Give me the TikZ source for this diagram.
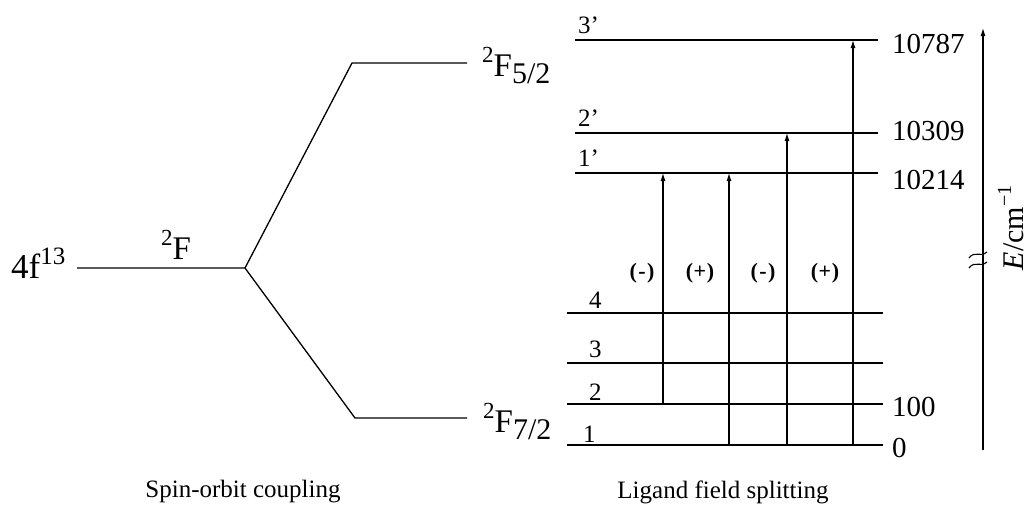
\documentclass[tikz,border=0pt]{standalone}
\usepackage{fontspec}
\setmainfont{Liberation Serif}
\usetikzlibrary{arrows.meta}
\newcommand\termsym[1]{\raisebox{0.4em}{\fontsize{23}{23}\selectfont 2}F\raisebox{-0.22em}{\fontsize{30}{30}\selectfont #1}}
\begin{document}
\begin{tikzpicture}[x=1pt,y=-1pt,
  lvl/.style={line width=1.3pt},
  tr/.style={line width=1.1pt,-{Latex[length=8pt,width=5pt]}},
  term/.style={font=\fontsize{33}{33}\selectfont, inner sep=0pt},
  num/.style={font=\fontsize{29}{29}\selectfont, anchor=west, inner sep=0pt},
  lab/.style={font=\fontsize{25}{25}\selectfont, inner sep=0pt, anchor=base west},
  sgn/.style={font=\fontsize{22}{22}\selectfont\bfseries, inner sep=0pt},
  captxt/.style={font=\fontsize{25}{25}\selectfont, inner sep=0pt}]
\useasboundingbox (0,0) rectangle (1031,514);
% spin-orbit part
\coordinate (F0) at (77,268);
\coordinate (Fs) at (245,268);
\coordinate (U1) at (352,63);
\coordinate (U2) at (467,63);
\coordinate (D1) at (355,418);
\coordinate (D2) at (467,418);
\draw[lvl] (F0) -- (Fs) -- (U1) -- (U2);
\draw[lvl] (Fs) -- (D1) -- (D2);
\node[term, anchor=base west, font=\fontsize{35}{35}\selectfont] (n4f) at (11,278) {4f\raisebox{0.38em}{\fontsize{25}{25}\selectfont 13}};
\node[term, anchor=base] (nF) at (176,259) {\raisebox{0.4em}{\fontsize{23}{23}\selectfont 2}F};
\node[term, anchor=base west] (nF52) at (482,76) {\termsym{5/2}};
\node[term, anchor=base west] (nF72) at (483,432) {\termsym{7/2}};
% ligand field levels
\foreach \n/\y in {3p/40,2p/133,1p/173}{
  \coordinate (L\n l) at (575,\y);
  \coordinate (L\n r) at (878,\y);
  \draw[lvl] (L\n l) -- (L\n r);
}
\foreach \n/\y in {4/313,3/363,2/404,1/445}{
  \coordinate (L\n l) at (567,\y);
  \coordinate (L\n r) at (883,\y);
  \draw[lvl] (L\n l) -- (L\n r);
}
\node[lab] (t3p) at (578,33) {3'};
\node[lab] (t2p) at (578,126) {2'};
\node[lab] (t1p) at (578,166) {1'};
\node[lab] (t4) at (589,308) {4};
\node[lab] (t3) at (589,357) {3};
\node[lab] (t2) at (589,400) {2};
\node[lab] (t1) at (583,442) {1};
% transitions
\coordinate (a1b) at (663,404); \coordinate (a1t) at (663,173);
\coordinate (a2b) at (729,445); \coordinate (a2t) at (729,173);
\coordinate (a3b) at (787,445); \coordinate (a3t) at (787,133);
\coordinate (a4b) at (853,445); \coordinate (a4t) at (853,40);
\draw[tr] (a1b) -- (a1t);
\draw[tr] (a2b) -- (a2t);
\draw[tr] (a3b) -- (a3t);
\draw[tr] (a4b) -- (a4t);
\node[sgn] (s1) at (642,273) {(\kern1.5pt-\kern1.5pt)};
\node[sgn] (s2) at (700,273) {(\kern0.5pt+\kern0.5pt)};
\node[sgn] (s3) at (763,273) {(\kern1.5pt-\kern1.5pt)};
\node[sgn] (s4) at (825,273) {(\kern0.5pt+\kern0.5pt)};
% energies
\node[num] (e1) at (892,44) {10787};
\node[num] (e2) at (892,131) {10309};
\node[num] (e3) at (892,180) {10214};
\node[num] (e4) at (892,407) {100};
\node[num] (e5) at (892,448) {0};
% axis
\coordinate (ax0) at (983,450);
\coordinate (ax1) at (983,28);
\draw[tr] (ax0) -- (ax1);
\draw[line width=1.1pt] (969,258) .. controls (975,250) and (980,258) .. (987,252);
\draw[line width=1.1pt] (969,268) .. controls (975,260) and (980,268) .. (987,262);
\node[rotate=90, font=\fontsize{30}{30}\selectfont, inner sep=0pt] (ax) at (1011,228) {\textit{E}/cm\raisebox{0.42em}{\fontsize{20}{20}\selectfont −1}};
% captions
\node[captxt] (c1) at (243,492) {Spin-orbit coupling};
\node[captxt] (c2) at (723,492) {Ligand field splitting};
\end{tikzpicture}
\end{document}
